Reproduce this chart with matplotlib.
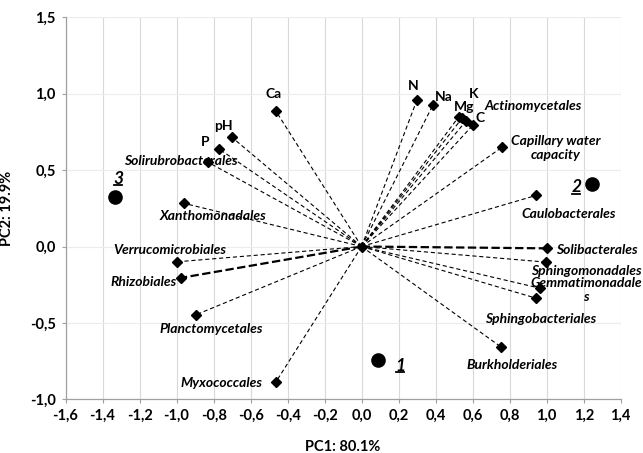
import numpy as np
import matplotlib
matplotlib.use("Agg")
import matplotlib.pyplot as plt
from matplotlib.lines import Line2D
from matplotlib.ticker import FuncFormatter

plt.rcParams['font.family'] = ['Lato', 'DejaVu Sans']
plt.rcParams['lines.scale_dashes'] = False

# loadings (orders and soil variables) on the first two components
taxa = ["Actinomycetales", "Capillary water\ncapacity", "Caulobacterales", "Solibacterales",
        "Sphingomonadales", "Gemmatimonadale\ns", "Sphingobacteriales", "Burkholderiales",
        "Myxococcales", "Planctomycetales", "Rhizobiales", "Verrucomicrobiales",
        "Xanthomonadales", "Solirubrobacterales"]
taxa_pc1 = [0.565, 0.760, 0.942, 1.000, 0.996, 0.964, 0.942, 0.755,
            -0.464, -0.896, -0.976, -0.997, -0.958, -0.832]
taxa_pc2 = [0.823, 0.651, 0.334, -0.012, -0.102, -0.273, -0.338, -0.659,
            -0.888, -0.447, -0.205, -0.100, 0.282, 0.553]

soil = ["N", "Na", "K", "Mg", "C", "Ca", "pH", "P"]
soil_pc1 = [0.298, 0.384, 0.542, 0.524, 0.603, -0.462, -0.700, -0.770]
soil_pc2 = [0.956, 0.923, 0.838, 0.847, 0.797, 0.884, 0.714, 0.638]

# sample scores
samples = ["1", "2", "3"]
sample_pc1 = [0.090, 1.247, -1.331]
sample_pc2 = [-0.742, 0.408, 0.327]

# label placement, offsets in pixels from the marker
taxa_offsets = {
    "Actinomycetales": (67, 15), "Capillary water\ncapacity": (53, -1),
    "Caulobacterales": (33, -19), "Solibacterales": (50, -2),
    "Sphingomonadales": (40, -9), "Gemmatimonadale\ns": (46, -2),
    "Sphingobacteriales": (5, -21), "Burkholderiales": (11, -18),
    "Myxococcales": (-54, -1), "Planctomycetales": (15, -14),
    "Rhizobiales": (-37, -4), "Verrucomicrobiales": (-7, 12),
    "Xanthomonadales": (29, -13), "Solirubrobacterales": (-27, 1),
}
soil_offsets = {"N": (-4, 14), "Na": (11, 8), "K": (12, 24), "Mg": (5, 10),
                "C": (7, 7), "Ca": (-3, 17), "pH": (-9, 11), "P": (-14, 7)}
sample_offsets = {"1": (22, -6), "2": (-16, -3), "3": (3, 18)}
bold_lines = {"Solibacterales", "Rhizobiales"}

fig = plt.figure(figsize=(6.43, 4.53), dpi=100)
ax = fig.add_axes([0.1019, 0.1185, 0.8634, 0.8433])

ax.set_xlim(-1.6, 1.4)
ax.set_ylim(-1.0, 1.5)
ax.set_xticks(np.arange(-1.6, 1.41, 0.2))
ax.set_yticks(np.arange(-1.0, 1.51, 0.5))
fmt = FuncFormatter(lambda v, p: f"{v:.1f}".replace(".", ",").replace("-0,0", "0,0"))
ax.xaxis.set_major_formatter(fmt)
ax.yaxis.set_major_formatter(fmt)

ax.grid(axis='x', color='#d9d9d9', lw=0.8)
ax.grid(axis='y', color='#ececec', lw=0.8)
ax.set_axisbelow(True)
for s in ['top', 'right']:
    ax.spines[s].set_visible(False)
for s in ['left', 'bottom']:
    ax.spines[s].set_color('#a0a0a0')
    ax.spines[s].set_linewidth(0.9)
ax.tick_params(direction='out', length=3, width=0.8, color='#a0a0a0', labelsize=10.5, pad=4)
for lab in ax.get_xticklabels() + ax.get_yticklabels():
    lab.set_fontweight('bold')

# dashed vectors from the origin
for name, x, y in zip(taxa, taxa_pc1, taxa_pc2):
    if name in bold_lines:
        ax.plot([0, x], [0, y], color='black', lw=1.6, dashes=(6, 2.5), zorder=2)
    else:
        ax.plot([0, x], [0, y], color='black', lw=0.8, dashes=(3, 2), zorder=2)
for x, y in zip(soil_pc1, soil_pc2):
    ax.plot([0, x], [0, y], color='black', lw=0.8, dashes=(3, 2), zorder=2)

ax.plot(taxa_pc1 + soil_pc1 + [0], taxa_pc2 + soil_pc2 + [0], 'D', color='black',
        ms=5, ls='none', zorder=3)
ax.plot(sample_pc1, sample_pc2, 'o', color='black', ms=9.5, ls='none', zorder=3)

for name, x, y in zip(taxa, taxa_pc1, taxa_pc2):
    dx, dy = taxa_offsets[name]
    ax.annotate(name, (x, y), xytext=(dx, dy), textcoords='offset pixels',
                ha='center', va='center', fontsize=10, fontweight='bold',
                style='italic', multialignment='center', linespacing=1.25,
                annotation_clip=False)
for name, x, y in zip(soil, soil_pc1, soil_pc2):
    dx, dy = soil_offsets[name]
    ax.annotate(name, (x, y), xytext=(dx, dy), textcoords='offset pixels',
                ha='center', va='center', fontsize=10, fontweight='bold')
num_texts = []
for name, x, y in zip(samples, sample_pc1, sample_pc2):
    dx, dy = sample_offsets[name]
    t = ax.annotate(name, (x, y), xytext=(dx, dy), textcoords='offset pixels',
                    ha='center', va='center', fontsize=12.5, fontweight='bold',
                    style='italic')
    num_texts.append(t)

ax.set_xlabel("PC1: 80.1%", fontsize=10.5, fontweight='bold')
ax.set_ylabel("PC2: 19.9%", fontsize=10.5, fontweight='bold')
ax.xaxis.set_label_coords(0.5, -0.107)
ax.yaxis.set_label_coords(-0.092, 0.5)

# underline the sample numbers
fig.canvas.draw()
r = fig.canvas.get_renderer()
for t in num_texts:
    bb = t.get_window_extent(r)
    yl = bb.y0 + 1.5
    fig.add_artist(Line2D([bb.x0 + 1, bb.x1 - 1], [yl, yl], transform=None,
                          color='black', lw=1.3))

fig.savefig("out.png", dpi=100)
